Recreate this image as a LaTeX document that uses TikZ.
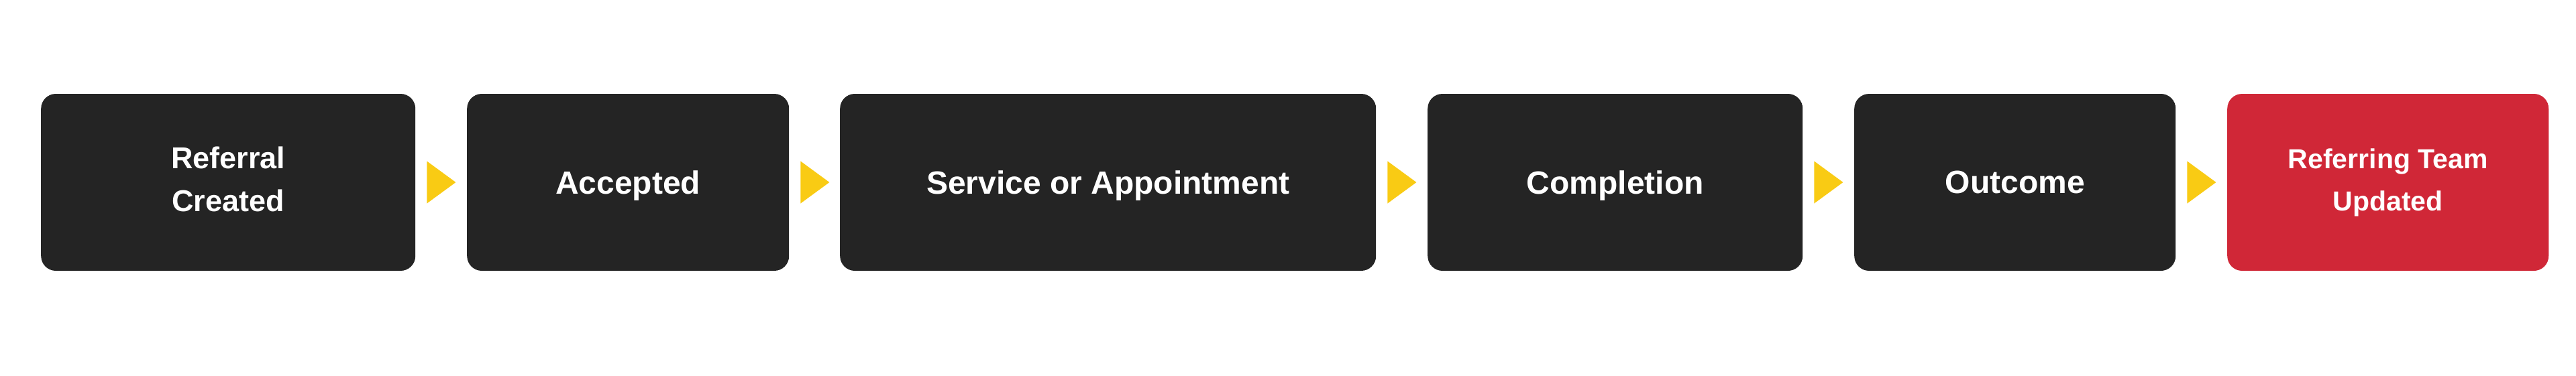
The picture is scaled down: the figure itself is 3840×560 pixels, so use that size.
\documentclass[tikz,border=0pt]{standalone}
\usepackage{fontspec}
\setmainfont{Liberation Sans}
\usetikzlibrary{calc}
\definecolor{boxdark}{HTML}{242424}
\definecolor{boxred}{HTML}{D02737}
\definecolor{arrowyel}{HTML}{F9CB14}
\begin{document}
\begin{tikzpicture}[x=1pt,y=1pt,
  stage/.style={fill=boxdark, rounded corners=22pt, minimum height=264pt,
    inner sep=0pt, text=white, align=center, anchor=west,
    font=\bfseries\fontsize{48}{58}\selectfont},
  oneline/.style={text depth=0pt},
  twoline/.style={font=\bfseries\fontsize{45}{64}\selectfont, text depth=9pt},
  finalstage/.style={fill=boxred, font=\bfseries\fontsize{41}{63}\selectfont},
  chevron/.style={fill=arrowyel, draw=none}]
\useasboundingbox (0,0) rectangle (3840,-560);
\node[stage, twoline, minimum width=558pt] (a) at (61,-272) {Referral\\Created};
\node[stage, oneline, minimum width=480pt] (b) at (696,-272) {Accepted};
\node[stage, oneline, minimum width=799pt] (c) at (1252,-272) {Service or Appointment};
\node[stage, oneline, minimum width=559pt] (d) at (2128,-272) {Completion};
\node[stage, oneline, minimum width=479pt] (e) at (2764,-272) {Outcome};
\node[stage, finalstage, minimum width=479pt] (f) at (3320,-272) {Referring Team\\Updated};
\foreach \s in {a,b,c,d,e}{
  \fill[chevron] ($(\s.east)+(17,31.5)$) -- ($(\s.east)+(60,0)$) -- ($(\s.east)+(17,-31.5)$) -- cycle;
}
\end{tikzpicture}
\end{document}
